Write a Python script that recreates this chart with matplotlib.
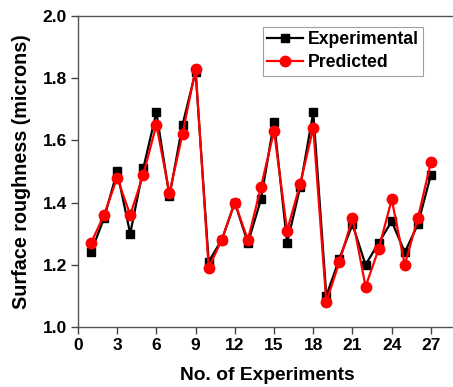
import matplotlib
matplotlib.use("Agg")
import matplotlib.pyplot as plt

experiments = list(range(1, 28))
experimental = [1.24, 1.35, 1.50, 1.30, 1.51, 1.69, 1.42, 1.65, 1.82, 1.21,
                1.28, 1.40, 1.27, 1.41, 1.66, 1.27, 1.45, 1.69, 1.10, 1.22,
                1.33, 1.20, 1.27, 1.34, 1.24, 1.33, 1.49]
predicted = [1.27, 1.36, 1.48, 1.36, 1.49, 1.65, 1.43, 1.62, 1.83, 1.19,
             1.28, 1.40, 1.28, 1.45, 1.63, 1.31, 1.46, 1.64, 1.08, 1.21,
             1.35, 1.13, 1.25, 1.41, 1.20, 1.35, 1.53]
xticks = [0, 3, 6, 9, 12, 15, 18, 21, 24, 27]
yticks = [1.0, 1.2, 1.4, 1.6, 1.8, 2.0]

plt.rcParams['font.family'] = ['Liberation Sans', 'DejaVu Sans']
plt.rcParams['font.weight'] = 'bold'

fig = plt.figure(figsize=(4.53, 3.87), dpi=100)
ax = fig.add_axes([0.172, 0.155, 0.837, 0.804])

ax.plot(experiments, experimental, color='black', marker='s', markersize=6.2,
        linewidth=1.6, label='Experimental', zorder=3)
ax.plot(experiments, predicted, color='red', marker='o', markersize=7.5,
        linewidth=1.6, label='Predicted', zorder=4)

ax.set_xlim(0, 29)
ax.set_ylim(1.0, 2.0)
ax.set_xticks(xticks)
ax.set_yticks(yticks)
ax.set_yticklabels([f"{v:.1f}" for v in yticks])
ax.tick_params(direction='out', length=5, width=1, labelsize=12.5, color='#444444', pad=3)
for lab in ax.get_xticklabels() + ax.get_yticklabels():
    lab.set_fontweight('bold')
for s in ax.spines.values():
    s.set_color('#555555')
    s.set_linewidth(1)

ax.set_xlabel('No. of Experiments', fontsize=13.8, fontweight='bold', labelpad=10)
ax.set_ylabel('Surface roughness (microns)', fontsize=14.2, fontweight='bold', labelpad=8)

leg = ax.legend(loc='upper left', bbox_to_anchor=(0.488, 0.965), fontsize=12.7,
                frameon=True, fancybox=False, borderpad=0.25, handlelength=2.0,
                handletextpad=0.3, labelspacing=0.35, borderaxespad=0)
leg.get_frame().set_edgecolor('#888888')
leg.get_frame().set_linewidth(0.8)
for t in leg.get_texts():
    t.set_fontweight('bold')

fig.savefig('out.png', dpi=100, facecolor='white')
